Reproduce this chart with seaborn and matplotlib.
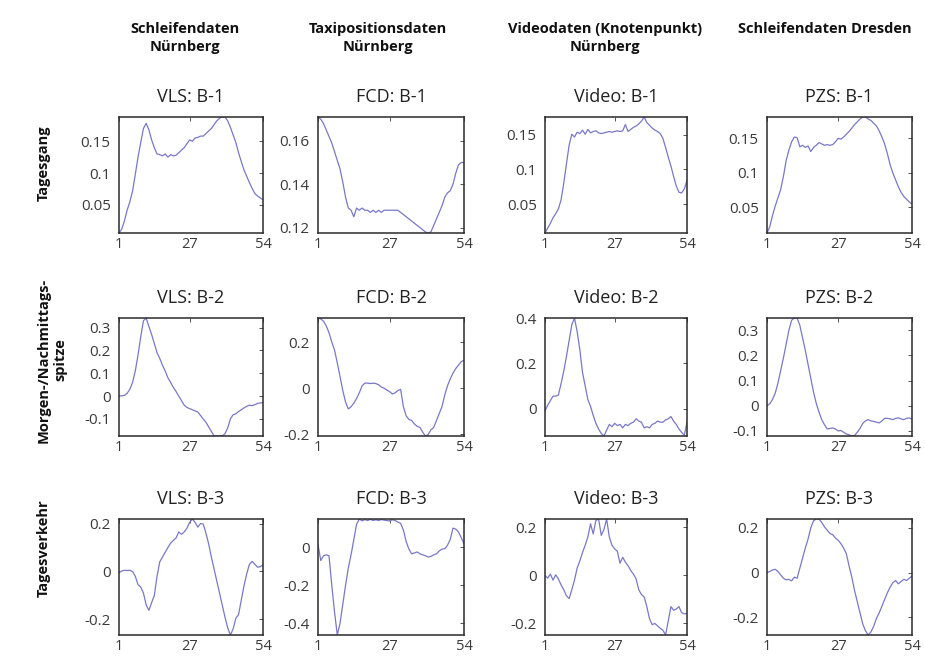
import numpy as np
import pandas as pd
import matplotlib
matplotlib.use("Agg")
import matplotlib.pyplot as plt
import seaborn as sns
from matplotlib.ticker import FuncFormatter

sns.set_style("white")
plt.rcParams['font.family'] = ['Open Sans', 'DejaVu Sans']
plt.rcParams['axes.unicode_minus'] = False

# ---------------- data ----------------
col_headers = ["Schleifendaten\nNürnberg", "Taxipositionsdaten\nNürnberg",
               "Videodaten (Knotenpunkt)\nNürnberg", "Schleifendaten Dresden"]
row_labels = ["Tagesgang", "Morgen-/Nachmittags-\nspitze", "Tagesverkehr"]
sources = ["VLS", "FCD", "Video", "PZS"]
components = ["B-1", "B-2", "B-3"]
x_ticks = [1, 27, 54]
intervals = list(range(1, 55))

vls_b1 = [0.006, 0.012, 0.025, 0.042, 0.055, 0.072, 0.098, 0.125, 0.148, 0.170,
          0.178, 0.168, 0.152, 0.140, 0.130, 0.129, 0.127, 0.130, 0.125, 0.129,
          0.127, 0.128, 0.132, 0.136, 0.140, 0.146, 0.152, 0.150, 0.155, 0.156,
          0.158, 0.158, 0.162, 0.166, 0.170, 0.176, 0.182, 0.186, 0.188, 0.188,
          0.182, 0.172, 0.160, 0.148, 0.132, 0.118, 0.105, 0.095, 0.085, 0.076,
          0.068, 0.064, 0.061, 0.058]
fcd_b1 = [0.171, 0.170, 0.168, 0.165, 0.162, 0.159, 0.155, 0.151, 0.147, 0.141,
          0.134, 0.129, 0.128, 0.125, 0.129, 0.128, 0.129, 0.128, 0.128, 0.127,
          0.128, 0.127, 0.128, 0.127, 0.128, 0.128, 0.128, 0.128, 0.128, 0.128,
          0.127, 0.126, 0.125, 0.124, 0.123, 0.122, 0.121, 0.120, 0.119, 0.118,
          0.1175, 0.118, 0.121, 0.124, 0.127, 0.130, 0.134, 0.136, 0.137, 0.140,
          0.145, 0.149, 0.150, 0.150]
video_b1 = [0.008, 0.015, 0.022, 0.030, 0.036, 0.043, 0.056, 0.080, 0.108, 0.135,
            0.151, 0.147, 0.154, 0.152, 0.157, 0.151, 0.158, 0.153, 0.155, 0.156,
            0.153, 0.152, 0.153, 0.154, 0.155, 0.154, 0.155, 0.156, 0.155, 0.156,
            0.165, 0.155, 0.158, 0.161, 0.163, 0.166, 0.170, 0.176, 0.168, 0.164,
            0.160, 0.157, 0.155, 0.152, 0.145, 0.132, 0.118, 0.105, 0.090, 0.076,
            0.067, 0.066, 0.072, 0.084]
pzs_b1 = [0.013, 0.022, 0.038, 0.052, 0.064, 0.076, 0.095, 0.118, 0.133, 0.145,
          0.152, 0.151, 0.138, 0.140, 0.137, 0.139, 0.131, 0.137, 0.140, 0.144,
          0.142, 0.140, 0.141, 0.140, 0.141, 0.145, 0.150, 0.149, 0.152, 0.156,
          0.160, 0.165, 0.170, 0.174, 0.178, 0.181, 0.181, 0.178, 0.176, 0.172,
          0.168, 0.161, 0.152, 0.142, 0.128, 0.112, 0.100, 0.090, 0.080, 0.072,
          0.066, 0.062, 0.058, 0.055]

vls_b2 = [0.000, 0.001, 0.003, 0.012, 0.030, 0.060, 0.110, 0.180, 0.260, 0.330,
          0.342, 0.305, 0.270, 0.230, 0.190, 0.165, 0.135, 0.110, 0.080, 0.060,
          0.038, 0.020, 0.000, -0.020, -0.040, -0.050, -0.055, -0.060, -0.065, -0.070,
          -0.085, -0.100, -0.115, -0.135, -0.155, -0.175, -0.175, -0.174, -0.175, -0.165,
          -0.140, -0.100, -0.082, -0.078, -0.068, -0.060, -0.052, -0.045, -0.040, -0.042,
          -0.038, -0.032, -0.030, -0.029]
fcd_b2 = [0.304, 0.300, 0.290, 0.270, 0.240, 0.200, 0.165, 0.110, 0.050, -0.010,
          -0.060, -0.090, -0.080, -0.065, -0.045, -0.020, 0.010, 0.022, 0.022, 0.020,
          0.022, 0.020, 0.015, 0.005, 0.000, -0.008, -0.015, -0.025, -0.020, -0.010,
          -0.005, -0.080, -0.120, -0.135, -0.140, -0.155, -0.165, -0.170, -0.190, -0.207,
          -0.200, -0.180, -0.170, -0.140, -0.110, -0.080, -0.030, 0.010, 0.040, 0.065,
          0.085, 0.100, 0.115, 0.121]
video_b2 = [-0.010, 0.015, 0.035, 0.055, 0.055, 0.060, 0.110, 0.165, 0.230, 0.300,
            0.370, 0.400, 0.340, 0.260, 0.160, 0.100, 0.040, 0.010, -0.030, -0.065,
            -0.090, -0.110, -0.121, -0.095, -0.070, -0.080, -0.065, -0.075, -0.070, -0.085,
            -0.070, -0.075, -0.065, -0.060, -0.045, -0.055, -0.060, -0.085, -0.080, -0.085,
            -0.070, -0.065, -0.055, -0.060, -0.060, -0.050, -0.045, -0.035, -0.055, -0.070,
            -0.090, -0.105, -0.118, -0.060]
pzs_b2 = [0.000, 0.008, 0.025, 0.050, 0.090, 0.140, 0.190, 0.245, 0.300, 0.340,
          0.349, 0.349, 0.320, 0.270, 0.220, 0.165, 0.110, 0.055, 0.010, -0.025,
          -0.055, -0.075, -0.092, -0.090, -0.088, -0.092, -0.100, -0.098, -0.105, -0.112,
          -0.115, -0.120, -0.118, -0.105, -0.090, -0.070, -0.060, -0.055, -0.060, -0.062,
          -0.065, -0.068, -0.060, -0.050, -0.050, -0.052, -0.055, -0.050, -0.048, -0.052,
          -0.055, -0.050, -0.048, -0.053]

vls_b3 = [-0.005, 0.002, 0.005, 0.004, 0.005, 0.000, -0.020, -0.055, -0.065, -0.090,
          -0.140, -0.162, -0.130, -0.100, -0.020, 0.040, 0.060, 0.080, 0.100, 0.118,
          0.130, 0.140, 0.165, 0.155, 0.165, 0.180, 0.205, 0.219, 0.205, 0.185,
          0.200, 0.198, 0.160, 0.115, 0.060, 0.010, -0.040, -0.090, -0.140, -0.190,
          -0.235, -0.265, -0.240, -0.195, -0.180, -0.120, -0.060, -0.010, 0.030, 0.042,
          0.030, 0.018, 0.020, 0.028]
fcd_b3 = [0.014, -0.070, -0.045, -0.040, -0.045, -0.200, -0.340, -0.461, -0.400, -0.300,
          -0.200, -0.110, -0.040, 0.040, 0.120, 0.148, 0.138, 0.145, 0.140, 0.146,
          0.140, 0.144, 0.140, 0.145, 0.142, 0.140, 0.138, 0.144, 0.140, 0.132,
          0.125, 0.090, 0.030, -0.010, -0.035, -0.030, -0.025, -0.035, -0.040, -0.045,
          -0.052, -0.048, -0.040, -0.035, -0.020, -0.010, -0.008, 0.010, 0.040, 0.100,
          0.095, 0.080, 0.050, 0.017]
video_b3 = [0.000, -0.012, 0.005, -0.020, 0.002, -0.015, -0.040, -0.060, -0.085, -0.097,
            -0.060, -0.020, 0.030, 0.060, 0.095, 0.125, 0.160, 0.214, 0.172, 0.228,
            0.234, 0.166, 0.190, 0.234, 0.160, 0.125, 0.110, 0.100, 0.050, 0.075,
            0.055, 0.040, 0.020, 0.005, -0.015, -0.060, -0.080, -0.090, -0.130, -0.180,
            -0.205, -0.200, -0.210, -0.220, -0.228, -0.248, -0.190, -0.130, -0.145, -0.140,
            -0.130, -0.155, -0.160, -0.159]
pzs_b3 = [0.000, 0.005, 0.012, 0.015, 0.005, -0.010, -0.025, -0.032, -0.030, -0.037,
          -0.020, -0.025, 0.020, 0.065, 0.110, 0.150, 0.200, 0.232, 0.240, 0.240,
          0.225, 0.205, 0.190, 0.175, 0.170, 0.155, 0.145, 0.130, 0.110, 0.085,
          0.030, -0.020, -0.080, -0.130, -0.180, -0.230, -0.260, -0.279, -0.265, -0.240,
          -0.205, -0.180, -0.150, -0.120, -0.090, -0.065, -0.045, -0.035, -0.050, -0.040,
          -0.030, -0.035, -0.025, -0.015]

series = [[vls_b1, fcd_b1, video_b1, pzs_b1],
          [vls_b2, fcd_b2, video_b2, pzs_b2],
          [vls_b3, fcd_b3, video_b3, pzs_b3]]

y_ticks = [[[0.05, 0.1, 0.15], [0.12, 0.14, 0.16], [0.05, 0.1, 0.15], [0.05, 0.1, 0.15]],
           [[-0.1, 0, 0.1, 0.2, 0.3], [-0.2, 0, 0.2], [0, 0.2, 0.4], [-0.1, 0, 0.1, 0.2, 0.3]],
           [[-0.2, 0, 0.2], [-0.4, -0.2, 0], [-0.2, 0, 0.2], [-0.2, 0, 0.2]]]

# ---------------- layout (pixels) ----------------
W, H = 925, 659
col_x = [(119, 263), (318, 464), (545, 687), (767, 912)]
row_y = [(117, 233), (318, 436), (519, 635)]
header_x = [185, 378, 605, 825]
rowlabel_y = [163, 360, 548]
rowlabel_x = [44, 52, 44]

line_color = "#7878c8"
spine_color = "#2a2a2a"

fig = plt.figure(figsize=(W / 100, H / 100), dpi=100)
fig.patch.set_facecolor("white")

fmt = FuncFormatter(lambda v, p: ("%g" % round(v, 4)))

for r in range(3):
    for c in range(4):
        x0, x1 = col_x[c]
        y0, y1 = row_y[r]
        ax = fig.add_axes([x0 / W, 1 - y1 / H, (x1 - x0) / W, (y1 - y0) / H])
        vals = series[r][c]
        df = pd.DataFrame({"t": intervals, "v": vals})
        sns.lineplot(data=df, x="t", y="v", ax=ax, color=line_color, linewidth=0.9)
        ax.set_xlim(1, 54)
        ax.set_ylim(min(vals), max(vals))
        ax.set_xticks(x_ticks)
        ax.set_yticks(y_ticks[r][c])
        ax.yaxis.set_major_formatter(fmt)
        ax.set_xlabel("")
        ax.set_ylabel("")
        ax.set_title(f"{sources[c]}: {components[r]}", fontsize=13, color="#222222", pad=11)
        ax.tick_params(direction="in", length=3, width=0.6, top=True, right=True,
                       labelsize=11, colors="#3a3a3a")
        ax.tick_params(axis="y", pad=6)
        ax.tick_params(axis="x", pad=3, labelsize=10.5)
        for s in ax.spines.values():
            s.set_visible(True)
            s.set_color(spine_color)
            s.set_linewidth(1.1)
        ax.grid(False)

for c in range(4):
    fig.text(header_x[c] / W, 1 - 22 / H, col_headers[c], ha="center", va="top",
             fontsize=10.5, fontweight="bold", color="#111111", linespacing=1.35)

for r in range(3):
    fig.text(rowlabel_x[r] / W, 1 - rowlabel_y[r] / H, row_labels[r], ha="center", va="center",
             rotation=90, fontsize=10.5, fontweight="bold", color="#111111", linespacing=1.2)

fig.savefig("out.png", dpi=100, facecolor="white")
